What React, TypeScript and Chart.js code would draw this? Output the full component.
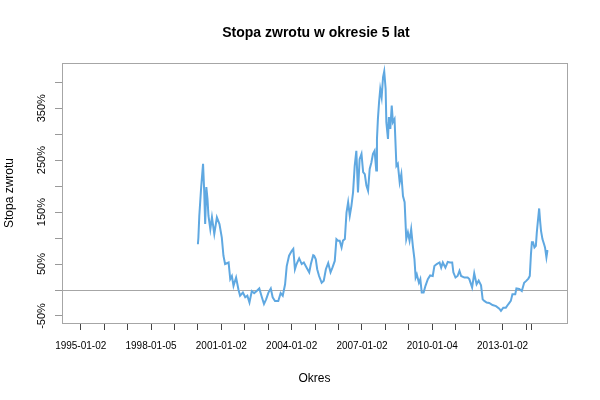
import React, { useEffect, useRef } from 'react';
import { Chart, registerables } from 'chart.js';

Chart.register(...registerables);

// ---- data (decimal year, 5-year return in %) ----
const years = [
  2000.00, 2000.02, 2000.06, 2000.14, 2000.22, 2000.27, 2000.31, 2000.36, 2000.41, 2000.45,
  2000.53, 2000.60, 2000.70, 2000.81, 2000.92, 2001.02, 2001.09, 2001.16, 2001.31, 2001.38,
  2001.45, 2001.52, 2001.63, 2001.73, 2001.80, 2001.92, 2002.02, 2002.11, 2002.20, 2002.30,
  2002.40, 2002.51, 2002.62, 2002.73, 2002.82, 2002.91, 2003.01, 2003.11, 2003.19, 2003.29,
  2003.43, 2003.53, 2003.62, 2003.72, 2003.79, 2003.89, 2004.00, 2004.07, 2004.14, 2004.21,
  2004.32, 2004.43, 2004.52, 2004.64, 2004.75, 2004.82, 2004.92, 2004.96, 2005.03, 2005.09,
  2005.17, 2005.28, 2005.37, 2005.46, 2005.56, 2005.66, 2005.74, 2005.84, 2005.91, 2005.98,
  2006.05, 2006.13, 2006.19, 2006.27, 2006.34, 2006.41, 2006.48, 2006.55, 2006.62, 2006.69,
  2006.76, 2006.83, 2006.90, 2006.98, 2007.05, 2007.12, 2007.19, 2007.26, 2007.33, 2007.40,
  2007.47, 2007.54, 2007.61, 2007.64, 2007.68, 2007.73, 2007.78, 2007.84, 2007.90, 2007.95,
  2008.01, 2008.04, 2008.11, 2008.15, 2008.21, 2008.27, 2008.32, 2008.39, 2008.47, 2008.53,
  2008.61, 2008.68, 2008.75, 2008.82, 2008.89, 2008.96, 2009.03, 2009.10, 2009.17, 2009.24,
  2009.29, 2009.34, 2009.43, 2009.49, 2009.55, 2009.63, 2009.71, 2009.81, 2009.91, 2010.02,
  2010.09, 2010.19, 2010.31, 2010.38, 2010.45, 2010.56, 2010.66, 2010.76, 2010.85, 2010.90,
  2010.99, 2011.08, 2011.16, 2011.23, 2011.37, 2011.51, 2011.58, 2011.70, 2011.79, 2011.89,
  2011.98, 2012.08, 2012.15, 2012.22, 2012.32, 2012.43, 2012.57, 2012.72, 2012.86, 2012.93,
  2013.03, 2013.14, 2013.25, 2013.35, 2013.42, 2013.54, 2013.59, 2013.71, 2013.82, 2013.92,
  2014.02, 2014.10, 2014.16, 2014.21, 2014.25, 2014.30, 2014.36, 2014.42, 2014.46, 2014.50,
  2014.56, 2014.60, 2014.64, 2014.70, 2014.77, 2014.81, 2014.87, 2014.91, 2014.95,
];
const returns = [
  88, 100, 143, 198, 243, 189, 127, 198, 175, 143,
  117, 140, 108, 140, 127, 101, 66, 50, 53, 21,
  27, 8, 24, 1, -11, -5, -14, -11, -24, -2,
  -6, -2, 3, -14, -27, -18, -5, 3, -14, -21,
  -21, -6, -11, 11, 46, 66, 75, 79, 40, 50,
  61, 50, 53, 43, 34, 50, 67, 66, 59, 40,
  27, 14, 18, 40, 52, 34, 43, 56, 98, 95,
  95, 82, 95, 98, 149, 169, 143, 162, 188, 239,
  268, 188, 252, 262, 227, 223, 201, 191, 233, 245,
  262, 268, 230, 291, 329, 362, 387, 371, 410, 421,
  387, 323, 291, 333, 310, 355, 323, 329, 239, 243,
  207, 223, 181, 169, 98, 111, 95, 117, 85, 59,
  24, 30, 14, 21, -5, -5, 8, 21, 28, 27,
  46, 50, 53, 43, 53, 43, 54, 53, 53, 34,
  24, 27, 37, 27, 24, 24, 21, 5, 32, 11,
  18, 9, -18, -21, -24, -25, -29, -31, -36, -40,
  -34, -34, -27, -21, -8, -8, 3, 2, -2, 14,
  18, 22, 27, 69, 92, 92, 82, 85, 111, 130,
  157, 133, 114, 98, 88, 82, 63, 75, 75,
];

// first date of the series (values before 2000 are missing)
const firstYear = 1995.0;

// ---- axes ----
const xTickYears = [
  1995, 1996, 1997, 1998, 1999, 2000, 2001, 2002, 2003, 2004,
  2005, 2006, 2007, 2008, 2009, 2010, 2011, 2012, 2013, 2014, 2014.25,
];
const xTickLabels = [
  '1995-01-02', '', '', '1998-01-05', '', '', '2001-01-02', '', '', '2004-01-02',
  '', '', '2007-01-02', '', '', '2010-01-04', '', '', '2013-01-02', '', '',
];
const yTickValues = [-50, 0, 50, 100, 150, 200, 250, 300, 350, 400];
const yTickLabels = ['-50%', '', '50%', '', '150%', '', '250%', '', '350%', ''];
const yMin = -63.5;
const yMax = 437;

const titleText = 'Stopa zwrotu w okresie 5 lat';
const xTitleText = 'Okres';
const yTitleText = 'Stopa zwrotu';

const FONT = '"Liberation Sans", Arial, sans-serif';
const GRAY = '#a6a6a6';

const decor = {
  id: 'decor',
  beforeDatasetsDraw(chart: any) {
    const { ctx, chartArea: a, scales } = chart;
    const py = Math.round(scales.y.getPixelForValue(0)) + 0.5;
    ctx.save();
    ctx.strokeStyle = GRAY;
    ctx.lineWidth = 1;
    ctx.beginPath();
    ctx.moveTo(a.left, py);
    ctx.lineTo(a.right, py);
    ctx.stroke();
    ctx.restore();
  },
  afterDraw(chart: any) {
    const { ctx, chartArea: a, scales } = chart;
    ctx.save();
    // box
    ctx.strokeStyle = GRAY;
    ctx.lineWidth = 1;
    ctx.strokeRect(Math.round(a.left) + 0.5, Math.round(a.top) + 0.5, Math.round(a.right - a.left), Math.round(a.bottom - a.top));

    ctx.fillStyle = '#000';
    // title
    ctx.font = `bold 14px ${FONT}`;
    ctx.textAlign = 'center';
    ctx.textBaseline = 'alphabetic';
    ctx.fillText(titleText, (a.left + a.right) / 2 + 1.5, 37);

    // x tick labels
    ctx.font = `10px ${FONT}`;
    xTickYears.forEach((v, i) => {
      const lbl = xTickLabels[i];
      if (!lbl) return;
      ctx.fillText(lbl, scales.x.getPixelForValue(v), 349);
    });

    // x title
    ctx.font = `12px ${FONT}`;
    ctx.fillText(xTitleText, (a.left + a.right) / 2, 382);

    // y tick labels (rotated)
    ctx.font = `11px ${FONT}`;
    yTickValues.forEach((v, i) => {
      const lbl = yTickLabels[i];
      if (!lbl) return;
      const py = scales.y.getPixelForValue(v);
      ctx.save();
      ctx.translate(45, py);
      ctx.rotate(-Math.PI / 2);
      ctx.fillText(lbl, 0, 0);
      ctx.restore();
    });

    // y title
    ctx.font = `12px ${FONT}`;
    ctx.save();
    ctx.translate(13, (a.top + a.bottom) / 2);
    ctx.rotate(-Math.PI / 2);
    ctx.fillText(yTitleText, 0, 0);
    ctx.restore();

    ctx.restore();
  },
};

export default function App() {
  const ref = useRef<HTMLCanvasElement>(null);

  useEffect(() => {
    document.body.style.margin = '0';
    if (!ref.current) return;
    const lastYear = years[years.length - 1];
    const pad = (lastYear - firstYear) * 0.04;
    const chart = new Chart(ref.current, {
      type: 'line',
      data: {
        datasets: [
          {
            data: years.map((x, i) => ({ x, y: returns[i] })),
            borderColor: '#5FA8E1',
            borderWidth: 2,
            pointRadius: 0,
            tension: 0,
            fill: false,
          },
        ],
      },
      options: {
        responsive: false,
        animation: false,
        events: [],
        layout: { padding: { top: 63, right: 33, left: 0, bottom: 0 } },
        plugins: {
          legend: { display: false },
          tooltip: { enabled: false },
          title: { display: false },
        },
        scales: {
          x: {
            type: 'linear',
            min: firstYear - pad,
            max: lastYear + pad,
            afterBuildTicks: (s: any) => {
              s.ticks = xTickYears.map((v) => ({ value: v }));
            },
            afterFit: (s: any) => {
              s.height = 77;
            },
            ticks: { display: false },
            grid: { drawOnChartArea: false, drawTicks: true, tickLength: 7, color: '#444' },
            border: { display: false },
          },
          y: {
            type: 'linear',
            min: yMin,
            max: yMax,
            afterBuildTicks: (s: any) => {
              s.ticks = yTickValues.map((v) => ({ value: v }));
            },
            afterFit: (s: any) => {
              s.width = 62;
            },
            ticks: { display: false },
            grid: { drawOnChartArea: false, drawTicks: true, tickLength: 7, color: '#999' },
            border: { display: false },
          },
        },
      },
      plugins: [decor],
    } as any);
    return () => chart.destroy();
  }, []);

  return (
    <div style={{ position: 'absolute', left: 0, top: 0, width: 600, height: 400, background: '#fff' }}>
      <canvas ref={ref} width={600} height={400} style={{ display: 'block' }} />
    </div>
  );
}
